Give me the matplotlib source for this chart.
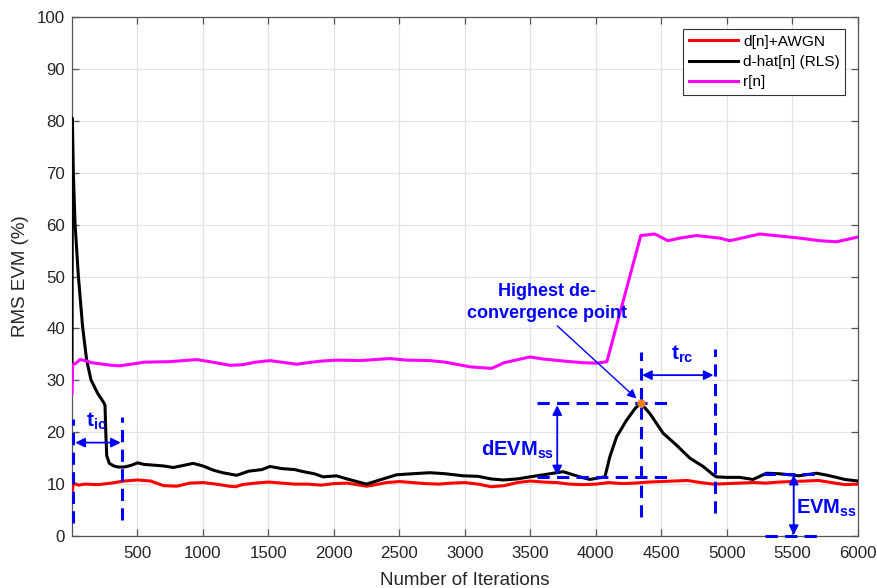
import matplotlib
matplotlib.use('Agg')
import matplotlib.pyplot as plt

plt.rcParams['font.family'] = ['Liberation Sans', 'DejaVu Sans']
plt.rcParams['mathtext.fontset'] = 'custom'
plt.rcParams['mathtext.rm'] = 'Liberation Sans'
plt.rcParams['mathtext.bf'] = 'Liberation Sans:bold'
plt.rcParams['mathtext.it'] = 'Liberation Sans:italic'

# d[n]+AWGN
iters_d = [0, 10, 50, 100, 200, 300, 400, 500, 600, 700, 800, 900, 1000, 1100, 1200, 1250,
           1300, 1400, 1500, 1600, 1700, 1800, 1900, 2000, 2100, 2200, 2250, 2300, 2400, 2500,
           2600, 2700, 2800, 2900, 3000, 3100, 3200, 3300, 3400, 3500, 3600, 3700, 3800, 3900,
           4000, 4100, 4200, 4300, 4400, 4500, 4600, 4700, 4800, 4900, 5000, 5100, 5200, 5300,
           5400, 5500, 5600, 5700, 5800, 5900, 6000]
evm_d = [8.0, 10.2, 9.8, 10.0, 9.9, 10.2, 10.6, 10.8, 10.6, 9.7, 9.6, 10.2, 10.3, 10.0, 9.6, 9.5,
         9.9, 10.2, 10.4, 10.2, 10.0, 10.0, 9.8, 10.1, 10.2, 9.8, 9.6, 9.8, 10.3, 10.5,
         10.3, 10.1, 10.0, 10.2, 10.3, 10.0, 9.5, 9.7, 10.3, 10.6, 10.4, 10.3, 10.0, 9.9,
         10.0, 10.3, 10.1, 10.2, 10.4, 10.5, 10.6, 10.7, 10.3, 10.0, 10.1, 10.2, 10.3, 10.2,
         10.4, 10.5, 10.6, 10.7, 10.3, 9.9, 10.0]

# d-hat[n] (RLS)
iters_rls = [0, 3, 10, 23, 48, 81, 112, 145, 196, 240, 252, 258, 265, 285, 320, 350, 400, 450,
             500, 550, 600, 700, 773, 850, 925, 1000, 1078, 1150, 1257, 1350, 1450, 1511, 1600,
             1700, 1766, 1850, 1918, 2020, 2100, 2249, 2350, 2478, 2600, 2733, 2850, 2987, 3100,
             3200, 3293, 3400, 3496, 3600, 3750, 3878, 3954, 4069, 4107, 4158, 4234, 4300, 4343,
             4412, 4514, 4616, 4718, 4819, 4896, 4921, 5000, 5099, 5200, 5303, 5400, 5481, 5550,
             5684, 5750, 5837, 5900, 6000]
evm_rls = [30.0, 80.5, 70.2, 60.3, 50.3, 40.3, 33.9, 30.1, 27.5, 25.8, 25.2, 20.0, 15.5, 14.0,
           13.5, 13.3, 13.3, 13.6, 14.1, 13.8, 13.7, 13.5, 13.2, 13.6, 14.0, 13.5, 12.7, 12.2,
           11.7, 12.5, 12.8, 13.4, 13.0, 12.8, 12.4, 12.0, 11.4, 11.6, 11.0, 10.0, 10.8, 11.8,
           12.0, 12.2, 12.0, 11.6, 11.5, 11.0, 10.8, 11.0, 11.4, 11.8, 12.4, 11.4, 10.9, 11.4,
           15.3, 19.1, 22.3, 24.6, 25.6, 23.6, 19.8, 17.5, 15.0, 13.4, 11.8, 11.4, 11.3, 11.3,
           10.9, 12.1, 12.0, 11.8, 11.6, 12.1, 11.8, 11.3, 10.9, 10.6]

# r[n]
iters_r = [0, 5, 30, 61, 100, 150, 239, 300, 366, 450, 550, 748, 850, 952, 1050, 1206, 1300,
           1400, 1511, 1600, 1715, 1800, 1900, 2020, 2200, 2427, 2550, 2733, 2850, 3038, 3204,
           3300, 3496, 3600, 3802, 3900, 4005, 4084, 4343, 4450, 4550, 4641, 4768, 4947, 5023,
           5252, 5405, 5557, 5710, 5837, 6000]
evm_r = [27.5, 33.0, 33.3, 34.0, 33.8, 33.4, 33.1, 32.9, 32.8, 33.1, 33.5, 33.6, 33.8, 34.0,
         33.6, 32.9, 33.0, 33.5, 33.8, 33.5, 33.1, 33.4, 33.7, 33.9, 33.8, 34.2, 33.9, 33.8,
         33.5, 32.6, 32.3, 33.4, 34.5, 34.1, 33.6, 33.4, 33.3, 33.6, 57.9, 58.2, 56.9, 57.4,
         57.9, 57.4, 56.9, 58.2, 57.8, 57.4, 56.9, 56.7, 57.6]

# markers on the RLS curve
peak_x, peak_y = 4343, 25.6
ss_level = 11.3
ic_start, ic_end = 5, 382
rc_end = 4908
evm_ss = 12.0
evm_ss_x = 5511

blue = '#0000ff'
dash = (0, (4, 2.4))
arrow2 = dict(arrowstyle='<|-|>', color=blue, lw=1.3, mutation_scale=14,
              shrinkA=0, shrinkB=0)

fig = plt.figure(figsize=(8.78, 5.88), dpi=100)
ax = fig.add_axes([0.082, 0.0884, 0.895, 0.8826])

ax.plot(iters_d, evm_d, color='#ff0000', lw=2.2, label='d[n]+AWGN', zorder=3)
ax.plot(iters_rls, evm_rls, color='black', lw=2.2, label='d-hat[n] (RLS)', zorder=3)
ax.plot(iters_r, evm_r, color='#ff00ff', lw=2.2, label='r[n]', zorder=3)

# t_ic
ax.plot([ic_start, ic_start], [2.5, 22.5], color=blue, lw=2.2, ls=dash, zorder=4)
ax.plot([ic_end, ic_end], [3, 23], color=blue, lw=2.2, ls=dash, zorder=4)
ax.annotate('', xy=(ic_start + 20, 18), xytext=(ic_end - 10, 18), arrowprops=arrow2, zorder=4)
ax.text(185, 20, r'$\mathbf{t_{ic}}$', color=blue, fontsize=15, ha='center', va='bottom')

# dEVM_ss
ax.plot([3550, 4565], [peak_y, peak_y], color=blue, lw=2.2, ls=dash, zorder=4)
ax.plot([3550, 4565], [ss_level, ss_level], color=blue, lw=2.2, ls=dash, zorder=4)
ax.annotate('', xy=(3705, peak_y - 0.4), xytext=(3705, ss_level + 0.4), arrowprops=arrow2, zorder=4)
ax.text(3400, 16.6, r'$\mathbf{dEVM_{ss}}$', color=blue, fontsize=14.5, ha='center', va='center')

# t_rc
ax.plot([peak_x, peak_x], [3.7, 35.5], color=blue, lw=2.2, ls=dash, zorder=4)
ax.plot([rc_end, rc_end], [4.5, 36], color=blue, lw=2.2, ls=dash, zorder=4)
ax.annotate('', xy=(peak_x + 10, 31), xytext=(rc_end - 10, 31), arrowprops=arrow2, zorder=4)
ax.text(4660, 33, r'$\mathbf{t_{rc}}$', color=blue, fontsize=15, ha='center', va='bottom')

# EVM_ss
ax.plot([5275, 5710], [evm_ss, evm_ss], color=blue, lw=2.2, ls=dash, zorder=4)
ax.plot([5295, 5730], [0, 0], color=blue, lw=2.2, ls=dash, zorder=4, clip_on=False)
ax.annotate('', xy=(evm_ss_x, evm_ss - 0.2), xytext=(evm_ss_x, 0.2), arrowprops=arrow2, zorder=4)
ax.text(5760, 5.4, r'$\mathbf{EVM_{ss}}$', color=blue, fontsize=14.5, ha='center', va='center')

# peak callout
ax.text(3625, 45.0, 'Highest de-\nconvergence point', color=blue, fontsize=13,
        fontweight='bold', ha='center', va='center', multialignment='center', linespacing=1.45)
ax.annotate('', xy=(4310, 26.5), xytext=(3705, 40.5),
            arrowprops=dict(arrowstyle='-|>', color=blue, lw=1.0, mutation_scale=13,
                            shrinkA=0, shrinkB=0), zorder=4)
ax.plot([peak_x], [peak_y], 'o', color='#f07f1a', ms=5, zorder=5)

ax.set_xlim(0, 6000)
ax.set_ylim(0, 100)
ax.set_xticks(range(500, 6001, 500))
ax.set_yticks(range(0, 101, 10))
ax.grid(True, color='#e3e3e3', lw=0.9)
ax.set_axisbelow(True)
for s in ax.spines.values():
    s.set_color('#555555')
    s.set_linewidth(0.9)
ax.tick_params(direction='in', length=5, width=0.9, color='#555555', top=True, right=True,
               labelsize=12.2, labelcolor='#262626')
ax.tick_params(axis='x', pad=7)
ax.tick_params(axis='y', pad=5)
ax.set_xlabel('Number of Iterations', fontsize=13.5, color='#262626', labelpad=8)
ax.set_ylabel('RMS EVM (%)', fontsize=13.5, color='#262626', labelpad=6)

leg = ax.legend(loc='upper right', fontsize=11.1, fancybox=False, framealpha=1,
                edgecolor='#333333', handlelength=3.2, handletextpad=0.35,
                borderaxespad=0.8, labelspacing=0.4, borderpad=0.35)
leg.get_frame().set_linewidth(0.8)

plt.savefig('out.png', dpi=100)
